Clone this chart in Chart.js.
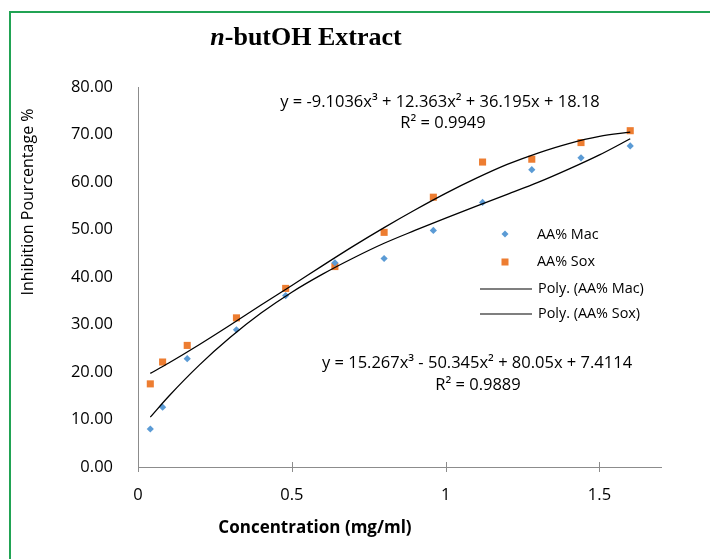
<!DOCTYPE html>
<html>
<head>
<meta charset="utf-8">
<script src="https://cdn.jsdelivr.net/npm/chart.js@4.4.0/dist/chart.umd.min.js"></script>
<style>
  html, body { margin: 0; padding: 0; background: #fff; }
  #wrap { position: relative; width: 710px; height: 559px; }
  #frame { position: absolute; left: 9px; top: 11px; right: -2px; bottom: -2px; border-left: 2px solid #21a354; border-top: 2px solid #21a354; }
  canvas { position: absolute; left: 0; top: 0; }
</style>
</head>
<body>
<div id="wrap">
  <div id="frame"></div>
  <canvas id="chart" width="710" height="559"></canvas>
</div>
<script>
// ====== data ======
const conc = [0.04, 0.08, 0.16, 0.32, 0.48, 0.64, 0.80, 0.96, 1.12, 1.28, 1.44, 1.60];
const macValues = [8.0, 12.6, 22.8, 28.9, 36.1, 43.0, 43.9, 49.8, 55.7, 62.6, 65.1, 67.6];
const soxValues = [17.5, 22.1, 25.6, 31.4, 37.6, 42.2, 49.4, 56.8, 64.2, 64.8, 68.3, 70.8];

// trendline curves
const fitX = [0.04, 0.1, 0.2, 0.3, 0.4, 0.5, 0.6, 0.7, 0.8, 0.9, 1.0, 1.1, 1.2, 1.3, 1.4, 1.5, 1.6];
const macFit = [10.5, 14.9, 21.5, 27.3, 32.4, 36.8, 40.6, 44.0, 47.1, 49.8, 52.4, 54.9, 57.4, 59.9, 62.7, 65.7, 69.1];
const soxFit = [19.7, 21.9, 25.8, 29.9, 34.1, 38.2, 42.4, 46.5, 50.4, 54.1, 57.6, 60.8, 63.7, 66.1, 68.1, 69.6, 70.5];

const xTicks = [0, 0.5, 1, 1.5];
const yTicks = [0, 10, 20, 30, 40, 50, 60, 70, 80];

const eqMac = ["y = 15.267x\u00b3 - 50.345x\u00b2 + 80.05x + 7.4114", "R\u00b2 = 0.9889"];
const eqSox = ["y = -9.1036x\u00b3 + 12.363x\u00b2 + 36.195x + 18.18", "R\u00b2 = 0.9949"];

const BLUE = "#5b9bd5";
const ORANGE = "#ed7d31";
const AXIS = "#8c8c8c";
const FONT = "'Open Sans', sans-serif";

const toPts = (xs, ys) => xs.map((x, i) => ({ x: x, y: ys[i] }));

// ====== extra drawing: titles, equations, legend, cross ticks ======
const decor = {
  id: "decor",
  afterDraw(chart) {
    const ctx = chart.ctx;
    const xs = chart.scales.x, ys = chart.scales.y;
    ctx.save();

    // cross tick marks on x axis
    ctx.strokeStyle = AXIS;
    ctx.lineWidth = 1;
    xTicks.forEach(v => {
      const px = Math.round(xs.getPixelForValue(v)) + 0.5;
      ctx.beginPath();
      ctx.moveTo(px, ys.bottom - 5);
      ctx.lineTo(px, ys.bottom + 5);
      ctx.stroke();
    });

    // title
    ctx.fillStyle = "#000";
    ctx.textBaseline = "middle";
    const tf = "26px 'Liberation Serif', serif";
    ctx.font = "italic bold " + tf;
    const w1 = ctx.measureText("n").width;
    ctx.font = "bold " + tf;
    const w2 = ctx.measureText("-butOH Extract").width;
    const tx = 306 - (w1 + w2) / 2;
    ctx.textAlign = "left";
    ctx.font = "italic bold " + tf;
    ctx.fillText("n", tx, 38);
    ctx.font = "bold " + tf;
    ctx.fillText("-butOH Extract", tx + w1, 38);

    // axis titles
    ctx.textAlign = "center";
    ctx.font = "bold 17px " + FONT;
    ctx.fillText("Concentration (mg/ml)", 315, 528);
    ctx.save();
    ctx.translate(28, 202);
    ctx.rotate(-Math.PI / 2);
    ctx.font = "16px " + FONT;
    ctx.fillText("Inhibition Pourcentage %", 0, 0);
    ctx.restore();

    // equations
    ctx.font = "16.5px " + FONT;
    ctx.fillText(eqSox[0], 440, 102);
    ctx.fillText(eqSox[1], 443, 123);
    ctx.fillText(eqMac[0], 477, 363);
    ctx.fillText(eqMac[1], 478, 385);

    // legend
    ctx.textAlign = "left";
    ctx.font = "14.4px " + FONT;
    ctx.fillStyle = BLUE;
    ctx.beginPath();
    ctx.moveTo(505, 230.5); ctx.lineTo(508.5, 234); ctx.lineTo(505, 237.5); ctx.lineTo(501.5, 234);
    ctx.closePath(); ctx.fill();
    ctx.fillStyle = ORANGE;
    ctx.fillRect(501.5, 258.5, 7, 7);
    ctx.strokeStyle = "#000";
    ctx.lineWidth = 1.2;
    [289, 314].forEach(y => {
      ctx.beginPath(); ctx.moveTo(480, y); ctx.lineTo(532, y); ctx.stroke();
    });
    ctx.fillStyle = "#000";
    ctx.fillText("AA% Mac", 537, 235);
    ctx.fillText("AA% Sox", 537, 262);
    ctx.fillText("Poly. (AA% Mac)", 538, 289);
    ctx.fillText("Poly. (AA% Sox)", 538, 314);

    ctx.restore();
  }
};

new Chart(document.getElementById("chart"), {
  type: "scatter",
  data: {
    datasets: [
      {
        label: "Poly. (AA% Mac)",
        data: toPts(fitX, macFit),
        showLine: true,
        borderColor: "#000",
        borderWidth: 1.3,
        pointRadius: 0,
        cubicInterpolationMode: "monotone"
      },
      {
        label: "Poly. (AA% Sox)",
        data: toPts(fitX, soxFit),
        showLine: true,
        borderColor: "#000",
        borderWidth: 1.3,
        pointRadius: 0,
        cubicInterpolationMode: "monotone"
      },
      {
        label: "AA% Mac",
        data: toPts(conc, macValues),
        pointStyle: "rectRot",
        pointRadius: 3.6,
        backgroundColor: BLUE,
        borderColor: BLUE,
        borderWidth: 0
      },
      {
        label: "AA% Sox",
        data: toPts(conc, soxValues),
        pointStyle: "rect",
        pointRadius: 5,
        backgroundColor: ORANGE,
        borderColor: ORANGE,
        borderWidth: 0
      }
    ]
  },
  options: {
    responsive: false,
    animation: false,
    layout: { padding: { left: 0, top: 87, right: 49, bottom: 0 } },
    plugins: { legend: { display: false }, tooltip: { enabled: false } },
    scales: {
      x: {
        type: "linear",
        min: 0,
        max: 1.7,
        afterBuildTicks: s => { s.ticks = xTicks.map(v => ({ value: v })); },
        afterFit: s => { s.height = 559 - 467; },
        grid: { display: false },
        border: { display: true, color: AXIS, width: 1 },
        ticks: {
          color: "#000",
          font: { family: "'Open Sans', sans-serif", size: 16.5 },
          padding: 10,
          callback: v => String(v)
        }
      },
      y: {
        min: 0,
        max: 80,
        afterBuildTicks: s => { s.ticks = yTicks.map(v => ({ value: v })); },
        afterFit: s => { s.width = 138; },
        grid: { display: false },
        border: { display: true, color: AXIS, width: 1 },
        ticks: {
          color: "#000",
          font: { family: "'Open Sans', sans-serif", size: 16.5 },
          padding: 17,
          callback: v => v.toFixed(2)
        }
      }
    }
  },
  plugins: [decor]
});
</script>
</body>
</html>
